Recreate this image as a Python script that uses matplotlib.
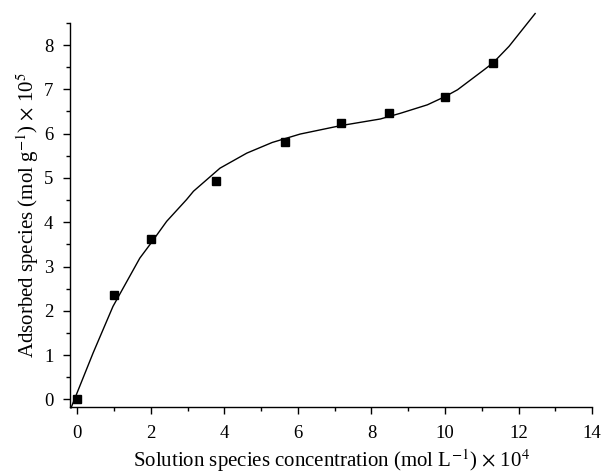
import matplotlib
matplotlib.use("Agg")
import matplotlib.pyplot as plt
from matplotlib.ticker import MultipleLocator

# measured data points
x_data = [0.0, 1.0, 2.0, 3.77, 5.65, 7.16, 8.48, 10.01, 11.31]
y_data = [0.0, 2.35, 3.63, 4.94, 5.82, 6.23, 6.46, 6.82, 7.60]

# fitted curve (traced)
x_fit = [-0.17, 0.43, 0.97, 1.70, 1.97, 2.43, 2.97, 3.16, 3.88, 4.61, 5.30, 6.06, 7.16, 8.24, 8.79, 9.52, 10.01, 10.34, 11.06, 11.31, 11.74, 12.45]
y_fit = [-0.19, 1.05, 2.10, 3.19, 3.49, 4.02, 4.51, 4.70, 5.22, 5.56, 5.80, 5.99, 6.18, 6.33, 6.46, 6.65, 6.84, 6.99, 7.44, 7.60, 7.97, 8.71]

plt.rcParams['font.family'] = ['Liberation Serif', 'DejaVu Serif']
plt.rcParams['mathtext.fontset'] = 'stix'

fig = plt.figure(figsize=(6.03, 4.76), dpi=100)
ax = fig.add_axes([0.116, 0.145, 0.866, 0.807])

ax.plot(x_fit, y_fit, color='black', lw=1.0, clip_on=False, zorder=2)
ax.plot(x_data, y_data, 's', color='black', ms=6, clip_on=False, zorder=3)

ax.set_xlim(-0.2, 14)
ax.set_ylim(-0.17, 8.5)
ax.xaxis.set_major_locator(MultipleLocator(2))
ax.xaxis.set_minor_locator(MultipleLocator(1))
ax.yaxis.set_major_locator(MultipleLocator(1))
ax.yaxis.set_minor_locator(MultipleLocator(0.5))
for s in ['top', 'right']:
    ax.spines[s].set_visible(False)
for s in ['left', 'bottom']:
    ax.spines[s].set_linewidth(1.0)
ax.tick_params(which='major', direction='out', length=5, width=1.0, labelsize=13.5, colors='black')
ax.tick_params(which='minor', direction='out', length=3, width=1.0)
ax.tick_params(axis='x', pad=8)
ax.tick_params(axis='y', pad=7)

ax.set_xlabel(r'Solution species concentration (mol L$^{-1}$) $\times$ 10$^{4}$', fontsize=15, labelpad=4)
ax.set_ylabel(r'Adsorbed species (mol g$^{-1}$) $\times$ 10$^{5}$', fontsize=15, labelpad=2)

fig.savefig('out.png', dpi=100)
